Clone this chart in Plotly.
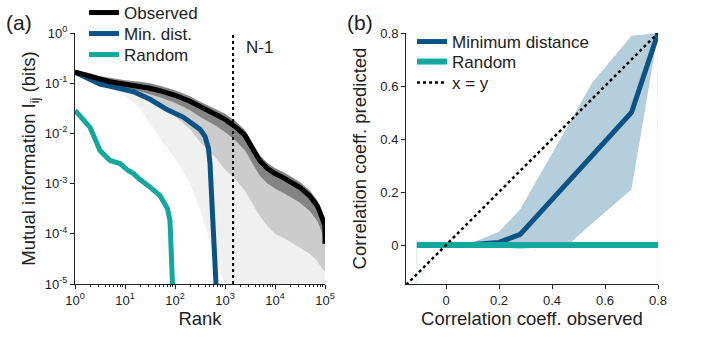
import numpy as np
import plotly.graph_objects as go

# ---------------- Panel (a) data (log10 values) ----------------
obs_logrank = [0, 0.3, 0.5, 0.7, 1.0, 1.3, 1.5, 1.7, 2.0, 2.3, 2.5, 2.8, 3.0, 3.2, 3.4, 3.55, 3.7, 3.85, 4.0, 4.2, 4.5, 4.7, 4.85, 4.95, 4.998, 5.0]
obs_logmi = [-0.78, -0.86, -0.93, -0.97, -1.02, -1.06, -1.10, -1.15, -1.24, -1.36, -1.47, -1.62, -1.72, -1.86, -2.04, -2.30, -2.55, -2.70, -2.80, -2.90, -3.08, -3.25, -3.45, -3.70, -3.85, -4.20]

# spread of the sampled curves (gray), as offsets in decades from the observed curve
band_up = [0.05, 0.06, 0.07, 0.08, 0.08, 0.09, 0.1, 0.1, 0.1, 0.1, 0.1, 0.11, 0.11, 0.11, 0.11, 0.11, 0.11, 0.11, 0.11, 0.11, 0.11, 0.11, 0.11, 0.11, 0.1, 0.1]
band_dark_dn = [0.05, 0.06, 0.07, 0.08, 0.08, 0.1, 0.12, 0.13, 0.15, 0.18, 0.2, 0.22, 0.25, 0.27, 0.3, 0.3, 0.3, 0.3, 0.3, 0.3, 0.3, 0.3, 0.3, 0.3, 0.3, 0.3]
band_mid_dn = [0.06, 0.08, 0.1, 0.11, 0.12, 0.18, 0.25, 0.32, 0.42, 0.55, 0.7, 0.85, 1.0, 1.05, 1.1, 1.1, 1.1, 1.15, 1.2, 1.2, 1.2, 1.15, 1.1, 1.0, 0.9, 0.6]
band_light_lo = [-0.85, -0.95, -1.05, -1.12, -1.25, -1.5, -1.8, -2.1, -2.5, -3.0, -3.5, -4.5, -5.0, -5.0, -5.0, -5.0, -5.0, -5.0, -5.0, -5.0, -5.0, -5.0, -5.0, -5.0, -5.0, -5.0]

md_logrank = [0, 0.3, 0.5, 0.8, 1.0, 1.17, 1.5, 1.83, 2.17, 2.5, 2.6, 2.67, 2.7, 2.73, 2.78, 2.82]
md_logmi = [-0.78, -0.92, -1.02, -1.08, -1.12, -1.17, -1.32, -1.52, -1.68, -1.92, -2.06, -2.3, -2.6, -3.2, -4.2, -5.0]

rnd_logrank = [0, 0.15, 0.3, 0.5, 0.7, 0.9, 1.06, 1.17, 1.3, 1.5, 1.7, 1.85, 1.9, 1.93, 1.95]
rnd_logmi = [-1.54, -1.7, -1.88, -2.34, -2.54, -2.6, -2.74, -2.8, -2.92, -3.07, -3.24, -3.5, -3.74, -4.5, -5.0]

n_minus_1 = 1450

# ---------------- Panel (b) data ----------------
corr_obs = [-0.11, 0.0, 0.1, 0.2, 0.28, 0.7, 0.8]
corr_pred_md = [0.0, 0.0, 0.002, 0.01, 0.04, 0.5, 0.8]
band_x = [-0.11, 0.1, 0.2, 0.28, 0.46, 0.55, 0.7, 0.8]
band_hi = [0.0, 0.01, 0.05, 0.135, 0.45, 0.61, 0.79, 0.8]
band_lo = [0.0, -0.003, -0.008, -0.015, 0.0, 0.08, 0.21, 0.8]
rnd_x = [-0.11, 0.8]
rnd_y = [0.0, 0.0]
diag = [-0.15, 0.8]

BLUE = "#0b5384"
TEAL = "#12a89d"
FONT = "Liberation Sans, Arial, sans-serif"
TXT = "#222"

W, H = 704, 337
def px(x): return x / W
def py(y): return 1 - y / H

fig = go.Figure()

lr = np.array(obs_logrank)
lo = np.array(obs_logmi)
rank = 10 ** lr

def band(upper, lower, color):
    xs = np.concatenate([rank, rank[::-1]])
    ys = np.concatenate([10 ** np.array(upper), (10 ** np.array(lower))[::-1]])
    fig.add_trace(go.Scatter(x=xs, y=ys, fill="toself", fillcolor=color, mode="none",
                             hoverinfo="skip", showlegend=False, xaxis="x", yaxis="y"))

band(lo + np.array(band_up) - 0.02, np.array(band_light_lo), "rgba(222,222,222,0.45)")
band(lo + np.array(band_up) - 0.02, lo - np.array(band_mid_dn), "rgba(175,175,175,0.55)")
band(lo + np.array(band_up), lo - np.array(band_dark_dn), "rgba(128,128,128,0.95)")

fig.add_trace(go.Scatter(x=[n_minus_1, n_minus_1], y=[1e-5, 1], mode="lines",
                         line=dict(color="black", width=2, dash="dot"), showlegend=False,
                         xaxis="x", yaxis="y"))
fig.add_trace(go.Scatter(x=10 ** np.array(rnd_logrank), y=10 ** np.array(rnd_logmi), mode="lines",
                         line=dict(color=TEAL, width=5), name="Random", legend="legend3",
                         xaxis="x", yaxis="y"))
fig.add_trace(go.Scatter(x=10 ** np.array(md_logrank), y=10 ** np.array(md_logmi), mode="lines",
                         line=dict(color=BLUE, width=5), name="Min. dist.", legend="legend2",
                         xaxis="x", yaxis="y"))
fig.add_trace(go.Scatter(x=rank, y=10 ** lo, mode="lines",
                         line=dict(color="black", width=5), name="Observed", legend="legend",
                         xaxis="x", yaxis="y"))

# ---- panel b ----
fig.add_trace(go.Scatter(x=band_x + band_x[::-1], y=band_hi + band_lo[::-1], fill="toself",
                         fillcolor="rgba(150,185,205,0.7)", mode="none", hoverinfo="skip",
                         showlegend=False, xaxis="x2", yaxis="y2"))
fig.add_trace(go.Scatter(x=[rnd_x[0], rnd_x[0]], y=[0, -0.15], mode="lines",
                         line=dict(color="rgba(18,168,157,0.2)", width=1), showlegend=False,
                         xaxis="x2", yaxis="y2"))
fig.add_trace(go.Scatter(x=[0.8, 0.8], y=[0.8, -0.15], mode="lines",
                         line=dict(color="rgba(150,185,205,0.25)", width=1), showlegend=False,
                         xaxis="x2", yaxis="y2"))
fig.add_trace(go.Scatter(x=corr_obs, y=corr_pred_md, mode="lines", line=dict(color=BLUE, width=5),
                         name="Minimum distance", legend="legend4", xaxis="x2", yaxis="y2"))
fig.add_trace(go.Scatter(x=rnd_x, y=rnd_y, mode="lines", line=dict(color=TEAL, width=6),
                         name="Random", legend="legend5", xaxis="x2", yaxis="y2"))
fig.add_trace(go.Scatter(x=diag, y=diag, mode="lines", line=dict(color="black", width=2.5, dash="dot"),
                         name="x = y", legend="legend6", xaxis="x2", yaxis="y2"))

minor_x = [m * 10 ** k for k in range(0, 5) for m in range(2, 10)]

axis_common = dict(showgrid=False, zeroline=False, showline=True, linecolor="#222", linewidth=1,
                   ticks="outside", ticklen=4, tickcolor="#222", automargin=False,
                   tickfont=dict(family=FONT, size=13, color=TXT))
TITLE_FONT = dict(family=FONT, size=18.5, color=TXT)

def leg(x, y):
    return dict(x=px(x), y=py(y), xanchor="left", yanchor="middle", bgcolor="rgba(0,0,0,0)",
                font=dict(family=FONT, size=17, color=TXT), itemwidth=30)

fig.update_layout(
    width=W, height=H, margin=dict(l=0, r=0, t=0, b=0, autoexpand=False),
    paper_bgcolor="white", plot_bgcolor="white",
    font=dict(family=FONT, color=TXT),
    xaxis=dict(**axis_common, type="log", range=[0, 5], domain=[px(75), px(325)], anchor="y",
               tickvals=[1, 10, 100, 1000, 10000, 100000],
               ticktext=["10<sup>0</sup>", "10<sup>1</sup>", "10<sup>2</sup>", "10<sup>3</sup>", "10<sup>4</sup>", "10<sup>5</sup>"],
               minor=dict(tickvals=minor_x, ticks="outside", ticklen=2, tickcolor="#222"),
               title=dict(text="Rank", font=TITLE_FONT, standoff=3)),
    yaxis=dict(**axis_common, type="log", range=[-5, 0], domain=[py(284), py(33)], anchor="x",
               tickvals=[1e-5, 1e-4, 1e-3, 1e-2, 1e-1, 1],
               ticktext=["10<sup>-5</sup>", "10<sup>-4</sup>", "10<sup>-3</sup>", "10<sup>-2</sup>", "10<sup>-1</sup>", "10<sup>0</sup>"],
               title=dict(text="Mutual information I<sub>ij</sub> (bits)", font=TITLE_FONT, standoff=4)),
    xaxis2=dict(**axis_common, range=[-0.151, 0.8], domain=[px(406), px(658)], anchor="y2",
                tickvals=[0, 0.2, 0.4, 0.6, 0.8], ticktext=["0", "0.2", "0.4", "0.6", "0.8"],
                title=dict(text="Correlation coeff. observed", font=TITLE_FONT, standoff=3)),
    yaxis2=dict(**axis_common, range=[-0.147, 0.8], domain=[py(284), py(33)], anchor="x2",
                tickvals=[0, 0.2, 0.4, 0.6, 0.8], ticktext=["0", "0.2", "0.4", "0.6", "0.8"],
                title=dict(text="Correlation coeff. predicted", font=TITLE_FONT, standoff=8)),
    legend=leg(84, 13),
    legend2=leg(84, 34),
    legend3=leg(84, 55),
    legend4=leg(412, 42),
    legend5=leg(412, 62),
    legend6=leg(412, 83),
    annotations=[
        dict(text="(a)", x=px(4), y=py(22), xref="paper", yref="paper", xanchor="left", yanchor="middle",
             showarrow=False, font=dict(family=FONT, size=21, color=TXT)),
        dict(text="(b)", x=px(345), y=py(22), xref="paper", yref="paper", xanchor="left", yanchor="middle",
             showarrow=False, font=dict(family=FONT, size=21, color=TXT)),
        dict(text="N-1", x=px(244), y=py(47), xref="paper", yref="paper", xanchor="left", yanchor="middle",
             showarrow=False, font=dict(family=FONT, size=17, color=TXT)),
    ],
)

fig.write_html("out.html", config={"displayModeBar": False},
               post_script="document.body.style.margin='0';document.body.style.padding='0';")
